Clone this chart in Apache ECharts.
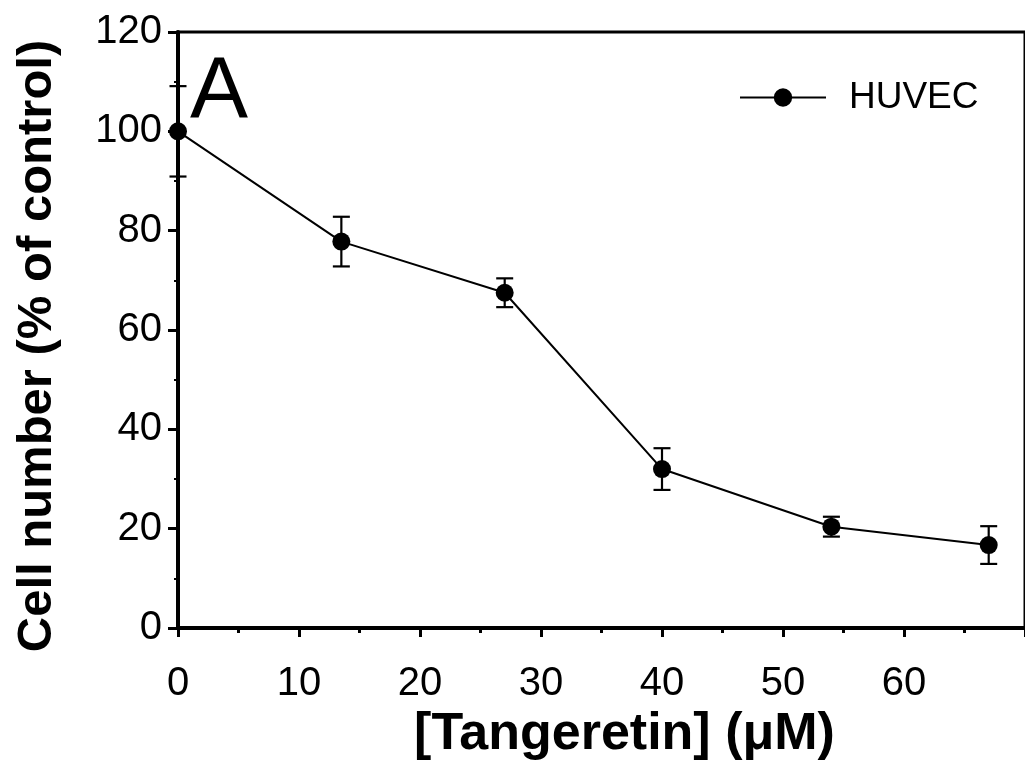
<!DOCTYPE html>
<html>
<head>
<meta charset="utf-8">
<script src="https://cdn.jsdelivr.net/npm/echarts@6/dist/echarts.min.js"></script>
<style>
  html, body { margin: 0; padding: 0; background: #fff; }
  #chart { width: 1025px; height: 767px; }
</style>
</head>
<body>
<div id="chart"></div>
<script>
// Tangeretin concentration (µM) and HUVEC cell number (% of control), mean ± error
var concentrations = [0, 13.5, 27, 40, 54, 67];
var cellNumber = [100, 77.8, 67.5, 32.0, 20.4, 16.7];
var errors = [9.1, 5.0, 2.9, 4.2, 2.0, 3.8];
var yTicks = [0, 20, 40, 60, 80, 100, 120];
var xTicks = [0, 10, 20, 30, 40, 50, 60];

var FONT = '"Liberation Sans", Arial, Helvetica, sans-serif';

var points = concentrations.map(function (c, i) { return [c, cellNumber[i]]; });
var bars = concentrations.map(function (c, i) {
  return [c, cellNumber[i] - errors[i], cellNumber[i] + errors[i]];
});

var chart = echarts.init(document.getElementById('chart'), null, { renderer: 'canvas' });

chart.setOption({
  animation: false,
  backgroundColor: '#ffffff',
  grid: {
    left: 178, top: 32, right: -7, bottom: 139,
    show: true, borderColor: '#000', borderWidth: 3, backgroundColor: 'transparent'
  },
  legend: {
    data: ['HUVEC'],
    left: 739, top: 79,
    itemWidth: 86, itemHeight: 23,
    padding: 0,
    textStyle: { fontFamily: FONT, fontSize: 37, color: '#000', padding: [0, 0, 0, 18] }
  },
  xAxis: {
    type: 'value',
    min: 0, max: 70, interval: 10,
    axisLine: { onZero: false, lineStyle: { color: '#000', width: 4 } },
    axisTick: { show: true, inside: false, length: 9, lineStyle: { color: '#000', width: 3 } },
    minorTick: { show: true, splitNumber: 2, length: 5, lineStyle: { color: '#000', width: 3 } },
    splitLine: { show: false },
    axisLabel: {
      fontFamily: FONT, fontSize: 40, color: '#000', margin: 36,
      showMaxLabel: false,
      formatter: function (v) { return xTicks.indexOf(v) >= 0 ? String(v) : ''; }
    },
    name: '[Tangeretin] (\u03bcM)',
    nameLocation: 'middle',
    nameGap: 77,
    nameTextStyle: {
      fontFamily: FONT, fontSize: 52, fontWeight: 'bold', color: '#000',
      padding: [0, 0, 0, 46]
    }
  },
  yAxis: {
    type: 'value',
    min: 0, max: 120, interval: 20,
    axisLine: { lineStyle: { color: '#000', width: 4 } },
    axisTick: { show: true, inside: false, length: 10, lineStyle: { color: '#000', width: 3 } },
    minorTick: { show: true, splitNumber: 2, length: 4, lineStyle: { color: '#000', width: 2 } },
    splitLine: { show: false },
    axisLabel: {
      fontFamily: FONT, fontSize: 40, color: '#000', margin: 16,
      formatter: function (v) { return yTicks.indexOf(v) >= 0 ? String(v) : ''; }
    },
    name: 'Cell number (% of control)',
    nameLocation: 'middle',
    nameGap: 116,
    nameTextStyle: {
      fontFamily: FONT, fontSize: 49, fontWeight: 'bold', color: '#000',
      padding: [0, 32, 0, 0]
    }
  },
  graphic: [
    {
      type: 'text',
      left: 190, top: 51,
      style: { text: 'A', fontFamily: FONT, fontSize: 87, fill: '#000' },
      z: 10
    }
  ],
  series: [
    {
      name: 'HUVEC',
      type: 'line',
      data: points,
      symbol: 'circle',
      symbolSize: 18,
      itemStyle: { color: '#000' },
      lineStyle: { color: '#000', width: 2 },
      z: 3
    },
    {
      name: 'error',
      type: 'custom',
      data: bars,
      z: 4,
      renderItem: function (params, api) {
        var x = api.value(0);
        var lo = api.coord([x, api.value(1)]);
        var hi = api.coord([x, api.value(2)]);
        var half = 8.5;
        var style = { stroke: '#000', lineWidth: 2.2 };
        return {
          type: 'group',
          children: [
            { type: 'line', shape: { x1: lo[0], y1: lo[1], x2: hi[0], y2: hi[1] }, style: style },
            { type: 'line', shape: { x1: hi[0] - half, y1: hi[1], x2: hi[0] + half, y2: hi[1] }, style: style },
            { type: 'line', shape: { x1: lo[0] - half, y1: lo[1], x2: lo[0] + half, y2: lo[1] }, style: style }
          ]
        };
      }
    }
  ]
});
</script>
</body>
</html>
